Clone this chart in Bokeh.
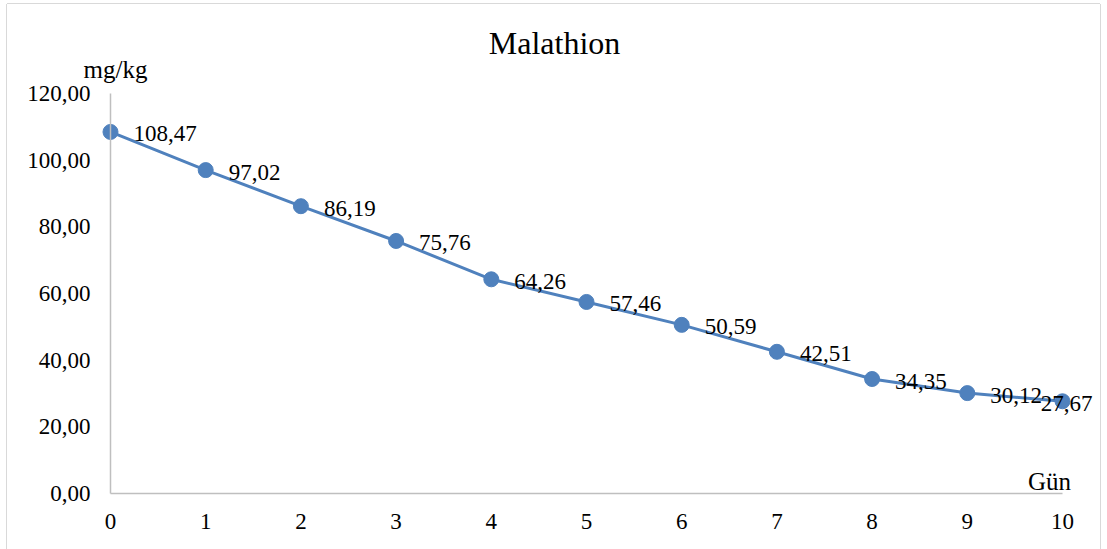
from bokeh.plotting import figure
from bokeh.models import ColumnDataSource, LabelSet, Label, Range1d, FixedTicker
from bokeh.embed import file_html
from bokeh.resources import INLINE

# ---- data ----
days = [0, 1, 2, 3, 4, 5, 6, 7, 8, 9, 10]
malathion = [108.47, 97.02, 86.19, 75.76, 64.26, 57.46, 50.59, 42.51, 34.35, 30.12, 27.67]
y_ticks = [0, 20, 40, 60, 80, 100, 120]
y_tick_labels = ["0,00", "20,00", "40,00", "60,00", "80,00", "100,00", "120,00"]
title_text = "Malathion"
y_title = "mg/kg"
x_title = "Gün"

FONT = "Liberation Serif"
BLUE = "#4f81bd"
AXIS = "#bfbfbf"

labels_txt = [f"{v:.2f}".replace(".", ",") for v in malathion]
aligns = ["left"] * (len(days) - 1) + ["center"]
xoffs = [23] * (len(days) - 1) + [4]

src = ColumnDataSource(dict(x=days, y=malathion, t=labels_txt, al=aligns, xo=xoffs))

# frame covers the whole canvas; axes are placed at the data origin
p = figure(width=1093, height=545, output_backend="svg", toolbar_location=None,
           x_range=Range1d(-1.0819, 10.399), y_range=Range1d(-16.8, 146.7),
           min_border=0)
p.styles = {"margin-left": "7px", "margin-top": "4px",
            "box-shadow": "-1px 0 0 0 #d9d9d9, 1px 0 0 0 #d9d9d9, 0 -1px 0 0 #d9d9d9"}
p.outline_line_color = None
p.xgrid.visible = False
p.ygrid.visible = False
p.background_fill_color = "white"
p.border_fill_color = "white"

# axes
xa = p.xaxis[0]
xa.fixed_location = 0
xa.ticker = FixedTicker(ticks=days)
xa.bounds = (days[0], days[-1])
xa.axis_line_color = AXIS
xa.axis_line_width = 1.5
xa.major_tick_line_color = None
xa.minor_tick_line_color = None
xa.major_tick_out = 0
xa.major_tick_in = 0
xa.major_label_standoff = 20
xa.major_label_text_font = FONT
xa.major_label_text_font_size = "23px"
xa.major_label_text_color = "black"

ya = p.yaxis[0]
ya.fixed_location = 0
ya.ticker = FixedTicker(ticks=y_ticks)
ya.bounds = (y_ticks[0], y_ticks[-1])
ya.major_label_overrides = {t: l for t, l in zip(y_ticks, y_tick_labels)}
ya.axis_line_color = AXIS
ya.axis_line_width = 1.5
ya.major_tick_line_color = None
ya.minor_tick_line_color = None
ya.major_tick_out = 0
ya.major_tick_in = 0
ya.major_label_standoff = 20
ya.major_label_text_font = FONT
ya.major_label_text_font_size = "23px"
ya.major_label_text_color = "black"

# series
p.line("x", "y", source=src, line_color=BLUE, line_width=3)
p.scatter("x", "y", source=src, size=15, fill_color=BLUE, line_color=BLUE)

ls = LabelSet(x="x", y="y", text="t", source=src, x_offset="xo", y_offset=-2,
              text_align="al", text_baseline="middle",
              text_font=FONT, text_font_size="23px", text_color="black")
p.add_layout(ls)

# titles
p.add_layout(Label(x=4.664, y=135.1, text=title_text, text_align="center",
                   text_baseline="middle", text_font=FONT, text_font_size="32px",
                   text_color="black"))
p.add_layout(Label(x=days[0], y=y_ticks[-1], x_offset=5, y_offset=24, text=y_title,
                   text_align="center", text_baseline="middle", text_font=FONT,
                   text_font_size="25px", text_color="black"))
p.add_layout(Label(x=days[-1], y=y_ticks[0], x_offset=-13, y_offset=12, text=x_title,
                   text_align="center", text_baseline="middle", text_font=FONT,
                   text_font_size="25px", text_color="black"))

open("out.html", "w").write(file_html(p, INLINE))
